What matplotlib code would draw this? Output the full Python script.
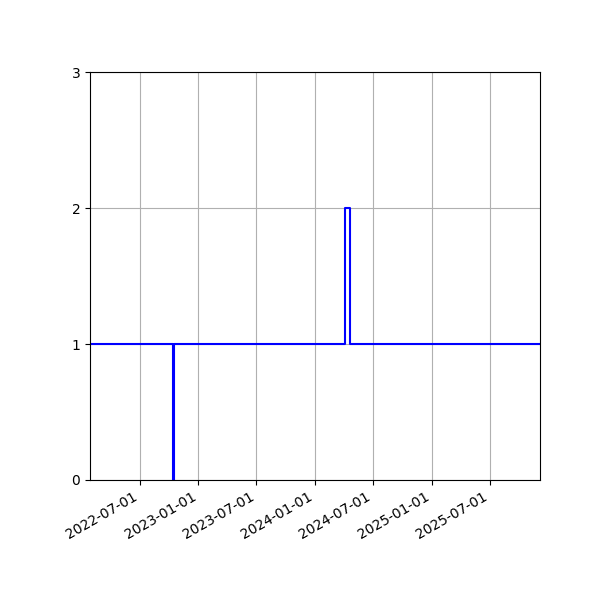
import matplotlib
matplotlib.use("Agg")
import matplotlib.pyplot as plt
import matplotlib.dates as mdates
import numpy as np

dates = ["2022-01-27", "2022-10-15", "2022-10-16", "2024-04-03", "2024-04-20", "2025-12-05"]
values = [1, 0, 1, 2, 1, 1]

x = np.array(dates, dtype="datetime64[D]")

fig, ax = plt.subplots(figsize=(6, 6), dpi=100)
fig.subplots_adjust(left=0.15, right=0.9, top=0.88)

ax.plot(x, values, drawstyle="steps-post", color="blue")
ax.set_xlim(x[0], x[-1])
ax.set_ylim(0, 3)
ax.set_yticks([0, 1, 2, 3])
ax.xaxis.set_major_locator(mdates.MonthLocator(bymonth=[1, 7]))
ax.xaxis.set_major_formatter(mdates.DateFormatter("%Y-%m-%d"))
ax.grid(True)
fig.autofmt_xdate()

plt.savefig("out.png")
